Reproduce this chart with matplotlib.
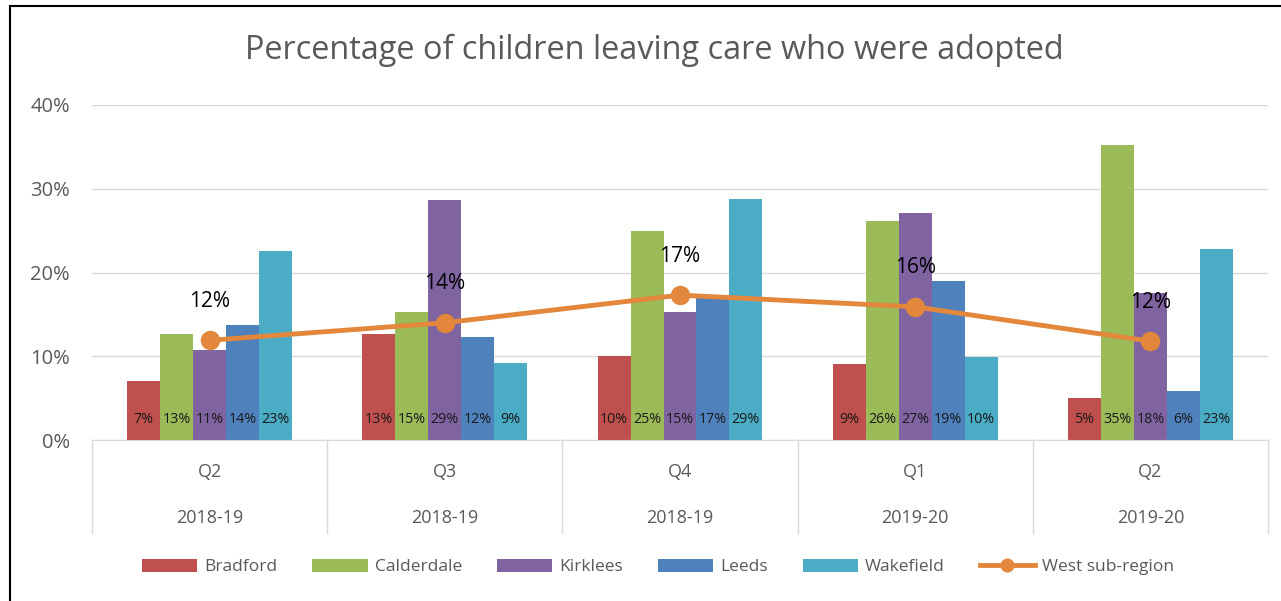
import numpy as np
import matplotlib
matplotlib.use('Agg')
import matplotlib.pyplot as plt
from matplotlib.lines import Line2D

plt.rcParams['font.family'] = ['Open Sans', 'DejaVu Sans']

quarters = ['Q2', 'Q3', 'Q4', 'Q1', 'Q2']
years = ['2018-19', '2018-19', '2018-19', '2019-20', '2019-20']
authorities = ['Bradford', 'Calderdale', 'Kirklees', 'Leeds', 'Wakefield']
bradford = [0.070, 0.126, 0.100, 0.091, 0.050]
calderdale = [0.126, 0.153, 0.250, 0.262, 0.352]
kirklees = [0.108, 0.286, 0.153, 0.271, 0.176]
leeds = [0.137, 0.123, 0.172, 0.190, 0.059]
wakefield = [0.226, 0.092, 0.288, 0.099, 0.228]
west = [0.119, 0.140, 0.173, 0.159, 0.118]
colors = ['#C0504D', '#9BBB59', '#8064A2', '#4F81BD', '#4BACC6']
line_color = '#E2873B'
grey_txt = '#595959'

fig = plt.figure(figsize=(12.81, 6.01), dpi=100)
ax = fig.add_axes([92/1281, 1-440/601, (1268-92)/1281, (440-105)/601])

x = np.arange(len(quarters))
w = 0.14
series = [bradford, calderdale, kirklees, leeds, wakefield]
for k, (name, vals) in enumerate(zip(authorities, series)):
    pos = x + (k - 2) * w
    ax.bar(pos, vals, width=w, color=colors[k], label=name, zorder=2)
    for px, v in zip(pos, vals):
        ax.text(px, 0.025, '{:.0f}%'.format(v * 100), ha='center', va='center',
                fontsize=10.3, color='#1a1a1a', zorder=5)

ax.plot(x, west, color=line_color, lw=3.5, marker='o', ms=13, zorder=4,
        label='West sub-region')
for xi, v in zip(x, west):
    ax.annotate('{:.0f}%'.format(v * 100), (xi, v), xytext=(0, 28),
                textcoords='offset points', ha='center', va='center',
                fontsize=15, color='black', zorder=6)

ax.set_xlim(-0.5, len(quarters) - 0.5)
ax.set_ylim(0, 0.4)
ax.set_yticks([0, 0.1, 0.2, 0.3, 0.4])
ax.set_yticklabels(['0%', '10%', '20%', '30%', '40%'], fontsize=14.5, color=grey_txt)
ax.tick_params(axis='y', length=0, pad=16)
ax.set_xticks([])
ax.grid(axis='y', color='#D9D9D9', lw=1, zorder=0)
for s in ['top', 'right', 'left']:
    ax.spines[s].set_visible(False)
ax.spines['bottom'].set_color('#D9D9D9')

# category boxes under the axis
for b in np.arange(-0.5, len(quarters), 1.0):
    ax.plot([b, b], [0, -0.111], color='#D9D9D9', lw=1, clip_on=False)
for xi, q, yr in zip(x, quarters, years):
    ax.text(xi, -0.038, q, ha='center', va='center', fontsize=13, color=grey_txt)
    ax.text(xi, -0.093, yr, ha='center', va='center', fontsize=13, color=grey_txt)

fig.text(654/1281, 1-50/601, 'Percentage of children leaving care who were adopted',
         ha='center', va='center', fontsize=23.4, color=grey_txt)

handles, labels = ax.get_legend_handles_labels()
handles = handles[1:] + handles[:1]
labels = labels[1:] + labels[:1]
fig.legend(handles, labels, loc='center', bbox_to_anchor=(658/1281, 1-567/601),
           ncol=6, frameon=False, fontsize=12.5, handlelength=3.2, handleheight=0.8,
           columnspacing=2.0, handletextpad=0.4, labelcolor=grey_txt,
           markerscale=0.7)

# outer border
fig.add_artist(Line2D([10/1281, 10/1281], [0, 1-6/601], color='black', lw=1.5))
fig.add_artist(Line2D([10/1281, 1], [1-6/601, 1-6/601], color='black', lw=1.5))

fig.savefig('out.png', dpi=100)
